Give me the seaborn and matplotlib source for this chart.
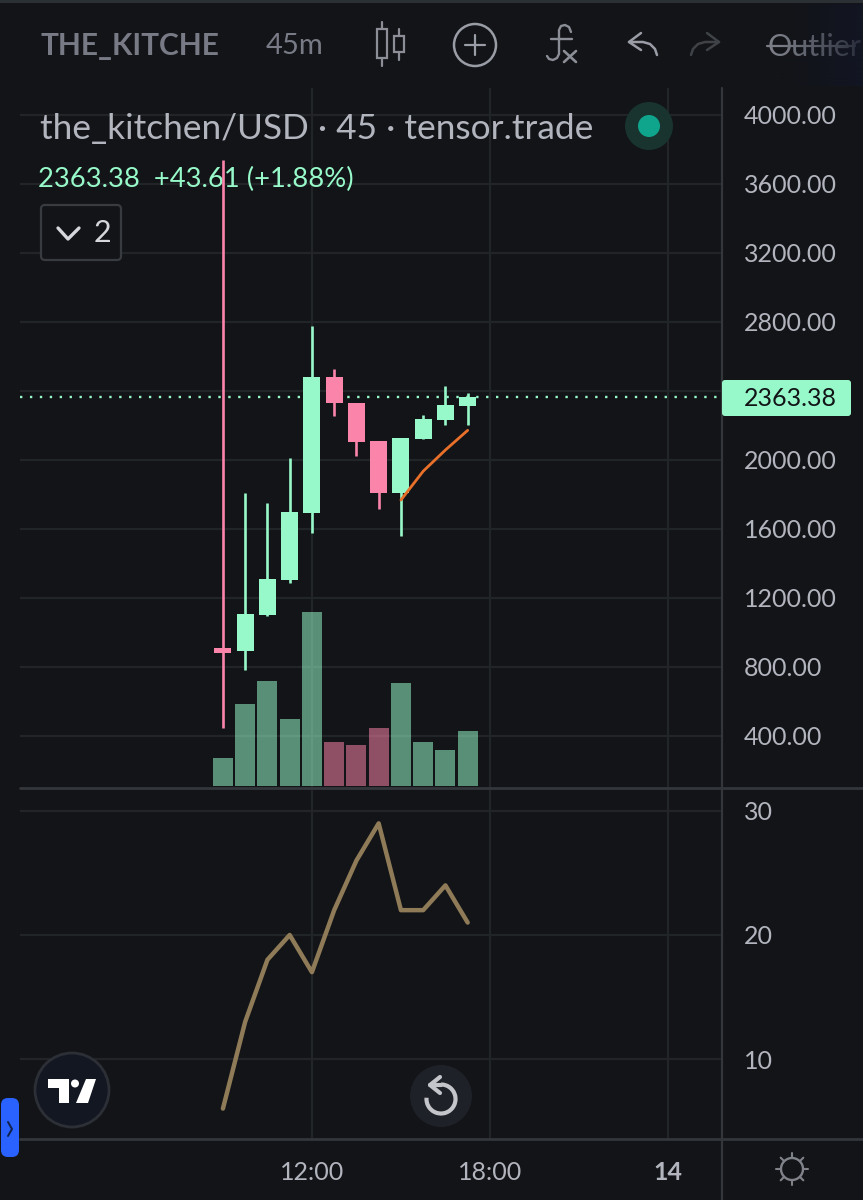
import numpy as np
import pandas as pd
import matplotlib
matplotlib.use("Agg")
import matplotlib.pyplot as plt
from matplotlib.patches import Circle, FancyBboxPatch, Rectangle, Polygon, Arc
import seaborn as sns

# candles
open_px = [908, 893, 1101, 1304, 1693, 2481, 2330, 2110, 1809, 2122, 2232, 2313]
close_px = [884, 1107, 1310, 1699, 2481, 2330, 2104, 1809, 2128, 2238, 2319, 2363.38]
high_px = [3739, 1809, 1751, 2012, 2777, 2528, 2330, 2110, 2128, 2261, 2429, 2388]
low_px = [446, 783, 1096, 1287, 1577, 2255, 2023, 1716, 1559, 2122, 2203, 2203]
volume = [28, 82, 105, 67, 174, 44, 41, 58, 103, 44, 36, 55]
vol_side = ["up", "up", "up", "up", "up", "down", "down", "down", "up", "up", "up", "up"]

ema_idx = [8, 9, 10, 11]
ema = [1768, 1935, 2058, 2172]

lower_idx = list(range(12))
lower = [6, 13, 18, 20, 17, 22, 26, 29, 22, 22, 24, 21]

price_ticks = [400, 800, 1200, 1600, 2000, 2400, 2800, 3200, 3600, 4000]
price_labels = ["400.00", "800.00", "1200.00", "1600.00", "2000.00", "", "2800.00", "3200.00", "3600.00", "4000.00"]
lower_ticks = [10, 20, 30]
time_ticks = [4, 12, 20]
time_labels = ["12:00", "18:00", "14"]
last_price = 2363.38

BG = "#121417"
GRID = "#222528"
AXIS = "#33363a"
MINT = "#97f9c9"
PINK = "#fb84ab"
TEXT = "#b2b5be"
DIM = "#787b86"
ICON = "#8b8e96"

sns.set_theme(style="dark", rc={"axes.facecolor": BG, "figure.facecolor": BG})
plt.rcParams["font.family"] = ["Lato", "DejaVu Sans"]

W, H = 863, 1200
fig = plt.figure(figsize=(W / 100, H / 100), dpi=100, facecolor=BG)


def box(left, top, right, bottom):
    return [left / W, (H - bottom) / H, (right - left) / W, (bottom - top) / H]


def pixel_axes():
    a = fig.add_axes([0, 0, 1, 1])
    a.set_xlim(0, W)
    a.set_ylim(H, 0)
    a.axis("off")
    a.patch.set_visible(False)
    return a


xlim = (-9.12, 22.43)
price_lim = (98.55, 4156.5)

# price grid and scale at the back
ax = fig.add_axes(box(20, 88, 722, 788))
ax.set_xlim(*xlim)
ax.set_ylim(*price_lim)
ax.set_axisbelow(True)
ax.grid(True, color=GRID, lw=1.6)
ax.yaxis.tick_right()
ax.set_yticks(price_ticks, price_labels)
ax.set_xticks(time_ticks, [""] * 3)
ax.tick_params(axis="y", length=0, pad=16, labelsize=18, labelcolor=TEXT)
ax.tick_params(axis="x", length=0)

# volume over the grid
ax_vol = fig.add_axes(box(20, 88, 722, 788))
df = pd.DataFrame({"idx": range(12), "volume": volume, "side": vol_side})
sns.barplot(data=df, x="idx", y="volume", hue="side", palette={"up": MINT, "down": PINK},
            native_scale=True, dodge=False, width=0.9, saturation=1, alpha=0.54,
            linewidth=0, edgecolor="none", legend=False, ax=ax_vol)
ax_vol.set_ylim(-2, 698)
ax_vol.set_xlim(*xlim)
ax_vol.axis("off")

# legend block goes under the candles, the long wick crosses it
back = pixel_axes()
back.text(40, 129, "the_kitchen/USD · 45 · tensor.trade", color=TEXT, fontsize=25.4, va="center")
back.add_patch(Circle((649, 126), 24, color="#19332f", lw=0))
back.add_patch(Circle((649, 126), 11, color="#0fa58c", lw=0))
back.text(38, 179, "2363.38  +43.61 (+1.88%)", color=MINT, fontsize=19.7, va="center")
back.add_patch(FancyBboxPatch((41, 205), 80, 55, boxstyle="round,pad=0,rounding_size=4",
                              fc=BG, ec="#383b40", lw=1.6))
back.plot([58, 68, 79], [228, 239, 228], color="#d5d7dc", lw=2.4)
back.text(102, 233, "2", color="#d5d7dc", fontsize=22, va="center", ha="center")

# candles
ax_c = fig.add_axes(box(20, 88, 722, 788))
ax_c.patch.set_visible(False)
ax_c.set_xlim(*xlim)
ax_c.set_ylim(*price_lim)
for i in range(12):
    up = close_px[i] >= open_px[i]
    c = MINT if up else PINK
    ax_c.vlines(i, low_px[i], high_px[i], color=c, lw=1.9, zorder=3)
    ax_c.bar(i, abs(close_px[i] - open_px[i]), bottom=min(open_px[i], close_px[i]),
             width=0.76, color=c, zorder=4, linewidth=0)
sns.lineplot(x=ema_idx, y=ema, color="#e8702a", lw=2, ax=ax_c, zorder=5)
ax_c.axhline(last_price, color=MINT, lw=1.7, ls=(0, (1, 3.2)), zorder=2)
ax_c.axis("off")

ax2 = fig.add_axes(box(20, 788, 722, 1139))
ax2.set_facecolor(BG)
ax2.set_xlim(*xlim)
ax2.set_ylim(3.55, 31.85)
ax2.grid(True, color=GRID, lw=1.6)
ax2.set_axisbelow(True)
ax2.yaxis.tick_right()
ax2.set_yticks(lower_ticks, [str(t) for t in lower_ticks])
ax2.set_xticks(time_ticks, time_labels)
ax2.tick_params(axis="y", length=0, pad=16, labelsize=18, labelcolor=TEXT)
ax2.tick_params(axis="x", length=0, pad=16, labelsize=18, labelcolor=TEXT)
ax2.get_xticklabels()[2].set_fontweight("bold")
sns.lineplot(x=lower_idx, y=lower, color="#8f7b57", lw=3.2, ax=ax2)

for a in (ax, ax2):
    for side in a.spines:
        a.spines[side].set_visible(False)
    a.set_xlabel("")
    a.set_ylabel("")

# terminal chrome, drawn in pixel coordinates
ui = pixel_axes()
ui.add_patch(Rectangle((0, 0), W, 3, color="#2b3035", lw=0))
ui.plot([20, W], [788, 788], color=AXIS, lw=2)
ui.plot([20, W], [1139, 1139], color=AXIS, lw=2)
ui.plot([722, 722], [88, H], color=AXIS, lw=1.6)

# toolbar
ui.text(40, 46, "THE_KITCHE", color=DIM, fontsize=21.5, fontweight="bold", va="center")
ui.text(266, 46, "45m", color=DIM, fontsize=21, va="center")
ui.add_patch(Rectangle((377, 29), 10, 29, fill=False, ec=ICON, lw=1.6))
ui.plot([382, 382], [22, 29], color=ICON, lw=1.6)
ui.plot([382, 382], [58, 66], color=ICON, lw=1.6)
ui.add_patch(Rectangle((394, 36), 10, 16, fill=False, ec=ICON, lw=1.6))
ui.plot([399, 399], [29, 36], color=ICON, lw=1.6)
ui.plot([399, 399], [52, 60], color=ICON, lw=1.6)
ui.add_patch(Circle((475, 45), 21, fill=False, ec="#9a9da5", lw=1.8))
ui.plot([465, 485], [45, 45], color="#9a9da5", lw=1.6)
ui.plot([475, 475], [35, 55], color="#9a9da5", lw=1.6)
# fx glyph
ui.plot([571, 569, 565, 561, 559, 559, 557, 553, 549, 547],
        [32, 27, 25, 26, 30, 54, 58, 60, 59, 56], color=ICON, lw=1.7)
ui.plot([551, 572], [39, 39], color=ICON, lw=1.7)
ui.plot([564, 576], [51, 62], color=ICON, lw=1.9)
ui.plot([576, 564], [51, 62], color=ICON, lw=1.9)
# undo and redo
ui.plot([657, 655, 650, 643, 629], [55, 49, 44, 42, 42], color="#9a9da5", lw=1.8)
ui.plot([641, 629, 641], [33, 42, 50], color="#9a9da5", lw=1.8)
ui.plot([691, 693, 698, 705, 719], [55, 49, 44, 42, 42], color="#3f4246", lw=1.8)
ui.plot([707, 719, 707], [33, 42, 50], color="#3f4246", lw=1.8)
ui.text(768, 47, "Outlier", color="#7b7e86", fontsize=22, va="center")
ui.plot([767, 855], [46, 46], color="#7b7e86", lw=1.6)
fade = np.zeros((1, 84, 4))
fade[..., :3] = matplotlib.colors.to_rgb("#121626")
fade[..., 3] = np.linspace(0, 0.8, 84)
ui.imshow(fade, extent=(779, 863, 86, 4), aspect="auto", zorder=6, interpolation="bilinear")
ui.set_xlim(0, W)
ui.set_ylim(H, 0)

# last price tag
ui.add_patch(FancyBboxPatch((722, 380), 129, 36, boxstyle="round,pad=0,rounding_size=3",
                            fc=MINT, ec="none", zorder=5))
ui.text(790, 398, "2363.38", color=BG, fontsize=18, va="center", ha="center", zorder=6)

# logo button
ui.add_patch(Circle((72, 1090), 37, fc="#131722", ec="#2c2f36", lw=2))
ui.add_patch(Polygon([(48, 1079), (69, 1079), (69, 1103), (59, 1103), (59, 1088), (48, 1088)], color="white", lw=0))
ui.add_patch(Circle((75, 1083.5), 4, color="white", lw=0))
ui.add_patch(Polygon([(86, 1079), (96, 1079), (88, 1103), (76, 1103)], color="white", lw=0))

# reset button
ui.add_patch(Circle((441, 1096), 31, fc="#1e2128", lw=0))
ui.add_patch(Arc((441, 1099), 29, 29, theta1=-90, theta2=185, ec="#c3c5ca", lw=3))
ui.plot([441, 430], [1085, 1085], color="#c3c5ca", lw=3)
ui.plot([440, 430, 440], [1077, 1085, 1093], color="#c3c5ca", lw=3)

# side tab
ui.add_patch(FancyBboxPatch((1, 1098), 18, 59, boxstyle="round,pad=0,rounding_size=7", fc="#2962ff", ec="none"))
ui.plot([8, 12, 8], [1122, 1129, 1136], color="#10204a", lw=1.4)

# theme sun
ui.add_patch(Circle((792, 1169), 11, fill=False, ec="#7f8289", lw=1.7))
for ang in np.deg2rad(np.arange(0, 360, 45)):
    ui.plot([792 + 11 * np.cos(ang), 792 + 16 * np.cos(ang)],
            [1169 + 11 * np.sin(ang), 1169 + 16 * np.sin(ang)], color="#7f8289", lw=1.5)

fig.savefig("out.png", dpi=100, facecolor=BG)
